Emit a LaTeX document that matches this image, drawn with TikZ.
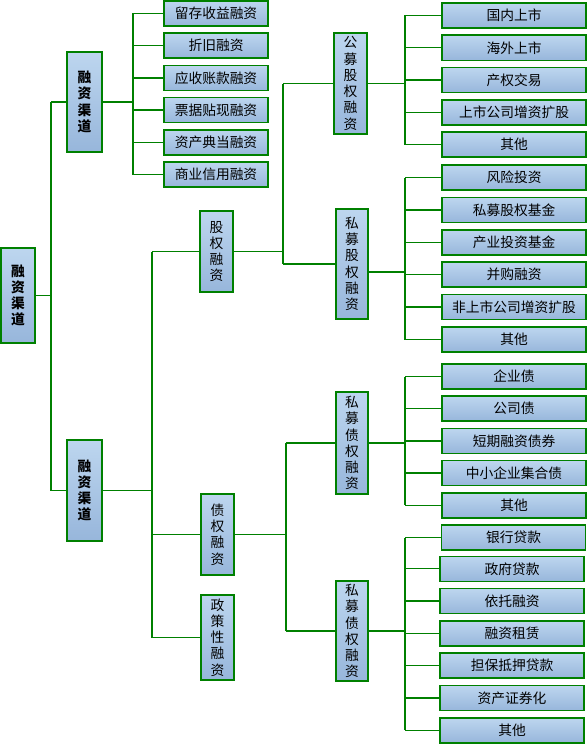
\documentclass[tikz,border=0pt]{standalone}
\usepackage{fontspec}
\newfontfamily\cjk{Noto Sans CJK SC}
\definecolor{boxtop}{HTML}{BDD6EF}
\definecolor{boxbot}{HTML}{97B6DB}
\definecolor{grn}{HTML}{008000}
\tikzset{
  box/.style={draw=grn, line width=1.6bp, top color=boxtop, bottom color=boxbot,
    inner sep=0pt, text=black, align=center,
    font=\cjk\fontsize{13.8}{16.3}\selectfont},
  boldbox/.style={box, font=\cjk\bfseries\fontsize{13.8}{16.3}\selectfont},
  leaf/.style={box, minimum width=144bp, minimum height=25bp},
  link/.style={draw=grn, line width=1.3bp}
}
\begin{document}
\begin{tikzpicture}[x=1bp,y=-1bp]
\useasboundingbox[fill=white] (0,0) rectangle (587,745);
% level 0/1
\node[boldbox, minimum width=34bp, minimum height=95bp] (root) at (18,295.5) {融\\资\\渠\\道};
\node[boldbox, minimum width=35bp, minimum height=100bp] (A1) at (84.5,102) {融\\资\\渠\\道};
\node[boldbox, minimum width=35bp, minimum height=101bp] (A2) at (84.5,490.5) {融\\资\\渠\\道};
% top leaves
\foreach \i/\t in {0/留存收益融资,1/折旧融资,2/应收账款融资,3/票据贴现融资,4/资产典当融资,5/商业信用融资}{
  \node[box, minimum width=104bp, minimum height=25bp] (t\i) at (216,13.5+32.2*\i) {\t};
}
% level 2
\node[box, minimum width=33bp, minimum height=81bp] (B1) at (216.5,251.5) {股\\权\\融\\资};
\node[box, minimum width=33bp, minimum height=81bp] (B2) at (217.5,534.5) {债\\权\\融\\资};
\node[box, minimum width=33bp, minimum height=85bp] (B3) at (217.5,637.5) {政\\策\\性\\融\\资};
% level 3
\node[box, minimum width=33bp, minimum height=101bp] (C1) at (350.5,83.5) {公\\募\\股\\权\\融\\资};
\node[box, minimum width=32bp, minimum height=110bp] (C2) at (352,264) {私\\募\\股\\权\\融\\资};
\node[box, minimum width=32bp, minimum height=102bp] (C3) at (352,443) {私\\募\\债\\权\\融\\资};
\node[box, minimum width=32bp, minimum height=100bp] (C4) at (352,631) {私\\募\\债\\权\\融\\资};
% leaves
\foreach \i/\t in {0/国内上市,1/海外上市,2/产权交易,3/上市公司增资扩股,4/其他}{
  \node[leaf] (p\i) at (514,15.5+32.3*\i) {\t};
}
\foreach \i/\t in {0/风险投资,1/私募股权基金,2/产业投资基金,3/并购融资,4/非上市公司增资扩股,5/其他}{
  \node[leaf] (q\i) at (514,177.5+32.4*\i) {\t};
}
\foreach \i/\t in {0/企业债,1/公司债,2/短期融资债券,3/中小企业集合债,4/其他}{
  \node[leaf] (r\i) at (514,376.5+32.2*\i) {\t};
}
\node[leaf] (s0) at (513.5,537.5) {银行贷款};
\foreach \i/\t in {1/政府贷款,2/依托融资,3/融资租赁,4/担保抵押贷款,5/资产证券化,6/其他}{
  \node[leaf] (s\i) at (512,536.5+32.3*\i) {\t};
}
% bus coordinates
\coordinate (k0) at (51,0);
\coordinate (kA1) at (133,0);
\coordinate (kA2) at (152,0);
\coordinate (kB1) at (283,0);
\coordinate (kB2) at (286,0);
\coordinate (kC) at (405,0);
\coordinate (C2out) at (368,272);
% root
\draw[link] (root.east) -- (root.east -| k0);
\draw[link] (A1.west -| k0) -- (A2.west -| k0);
\draw[link] (A1.west -| k0) -- (A1.west);
\draw[link] (A2.west -| k0) -- (A2.west);
% A1
\draw[link] (A1.east) -- (A1.east -| kA1);
\draw[link] (t0.west -| kA1) -- (t5.west -| kA1);
\foreach \i in {0,...,5}{\draw[link] (t\i.west -| kA1) -- (t\i.west);}
% A2
\draw[link] (A2.east) -- (A2.east -| kA2);
\draw[link] (B1.west -| kA2) -- (B3.west -| kA2);
\foreach \n in {B1,B2,B3}{\draw[link] (\n.west -| kA2) -- (\n.west);}
% B1
\draw[link] (B1.east) -- (B1.east -| kB1);
\draw[link] (C1.west -| kB1) -- (C2.west -| kB1);
\foreach \n in {C1,C2}{\draw[link] (\n.west -| kB1) -- (\n.west);}
% B2
\draw[link] (B2.east) -- (B2.east -| kB2);
\draw[link] (C3.west -| kB2) -- (C4.west -| kB2);
\foreach \n in {C3,C4}{\draw[link] (\n.west -| kB2) -- (\n.west);}
% C1
\draw[link] (C1.east) -- (C1.east -| kC);
\draw[link] (p0.west -| kC) -- (p4.west -| kC);
\foreach \i in {0,...,4}{\draw[link] (p\i.west -| kC) -- (p\i.west);}
% C2
\draw[link] (C2out) -- (C2out -| kC);
\draw[link] (q0.west -| kC) -- (q5.west -| kC);
\foreach \i in {0,...,5}{\draw[link] (q\i.west -| kC) -- (q\i.west);}
% C3
\draw[link] (C3.east) -- (C3.east -| kC);
\draw[link] (r0.west -| kC) -- (r4.west -| kC);
\foreach \i in {0,...,4}{\draw[link] (r\i.west -| kC) -- (r\i.west);}
% C4
\draw[link] (C4.east) -- (C4.east -| kC);
\draw[link] (s0.west -| kC) -- (s6.west -| kC);
\foreach \i in {0,...,6}{\draw[link] (s\i.west -| kC) -- (s\i.west);}
\end{tikzpicture}
\end{document}
